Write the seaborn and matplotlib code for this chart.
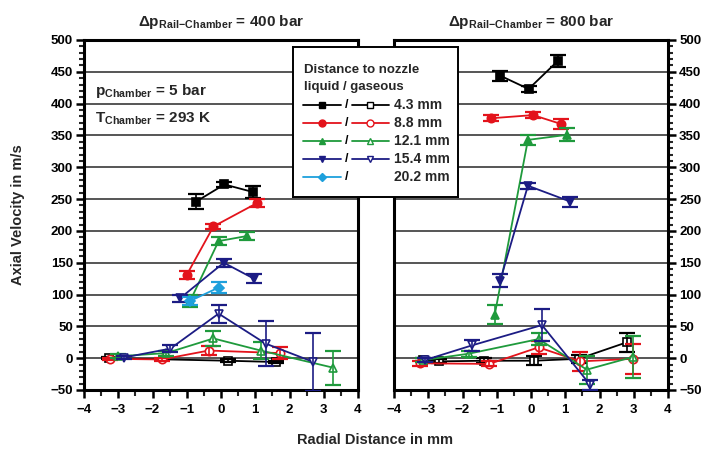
import numpy as np
import pandas as pd
from matplotlib import pyplot as plt
from matplotlib.ticker import MultipleLocator
import seaborn as sns

sns.set_theme(style='ticks')
plt.rcParams['font.family'] = ['Liberation Sans', 'DejaVu Sans']
plt.rcParams['font.weight'] = 'bold'
plt.rcParams['mathtext.fontset'] = 'custom'
plt.rcParams['mathtext.rm'] = 'Liberation Sans'
plt.rcParams['mathtext.bf'] = 'Liberation Sans:bold'

# farben / abstaende
dist_labels = ['4.3 mm', '8.8 mm', '12.1 mm', '15.4 mm', '20.2 mm']
colors = ['#000000', '#e3131b', '#1f9a3c', '#1c1c84', '#1ea0dc']
markers = ['s', 'o', '^', 'v', 'D']

# ---- 400 bar, fluessig (gefuellt) ----
l400_x = [[-0.73, 0.1, 0.94],
          [-1.0, -0.22, 1.06],
          [-0.9, -0.07, 0.76],
          [-1.2, 0.08, 0.96],
          [-0.9, -0.07]]
l400_y = [[246, 273, 261],
          [131, 207, 244],
          [90, 184, 192],
          [94, 150, 125],
          [90, 111]]
l400_e = [[12, 4, 9],
          [6, 4, 6],
          [9, 6, 7],
          [5, 6, 7],
          [6, 9]]

# ---- 400 bar, gasfoermig (offen) ----
g400_x = [[-3.27, 0.2, 1.6],
          [-3.25, -1.73, -0.36, 1.72],
          [-3.0, -1.6, -0.22, 1.16, 3.28],
          [-2.84, -1.48, -0.07, 1.3, 2.7]]
g400_y = [[0, -4, -6],
          [-1, -2, 12, 8],
          [3, 8, 31, 12, -15],
          [1, 15, 70, 23, -6]]
g400_e = [[2, 2, 2],
          [2, 3, 7, 10],
          [3, 4, 12, 14, 27],
          [2, 5, 14, 35, 45]]

# ---- 800 bar, fluessig ----
l800_x = [[-0.9, -0.07, 0.78],
          [-1.17, 0.06, 0.88],
          [-1.06, -0.09, 1.05],
          [-0.9, -0.09, 1.15]]
l800_y = [[444, 423, 467],
          [377, 382, 368],
          [68, 343, 351],
          [122, 271, 246]]
l800_e = [[8, 4, 9],
          [5, 5, 8],
          [15, 8, 10],
          [10, 5, 8]]

# ---- 800 bar, gasfoermig ----
g800_x = [[-3.16, -2.68, -1.36, 0.08, 1.39, 2.8],
          [-3.24, -1.22, 0.22, 1.44, 2.98],
          [-3.14, -1.82, 0.22, 1.63, 2.98],
          [-3.1, -1.73, 0.32, 1.73]]
g800_y = [[-3, -5, -4, -4, -1, 25],
          [-8, -9, 17, -5, -1],
          [-3, 7, 30, -18, 2],
          [-3, 20, 52, -42]]
g800_e = [[3, 3, 4, 7, 6, 15],
          [4, 4, 10, 15, 24],
          [3, 5, 10, 22, 33],
          [3, 8, 25, 8]]


def draw(ax, xs, ys, es, filled):
    for i in range(len(xs)):
        df = pd.DataFrame({'x': xs[i], 'y': ys[i]})
        c = colors[i]
        sns.lineplot(data=df, x='x', y='y', ax=ax, sort=False, color=c, lw=1.3,
                     marker=markers[i], ms=6 if markers[i] != 'D' else 5,
                     mec=c, mfc=c if filled else 'white', mew=1.2, zorder=3)
        ax.errorbar(xs[i], ys[i], yerr=es[i], fmt='none', ecolor=c,
                    elinewidth=1.2, capsize=6, capthick=1.6, zorder=3)


fig = plt.figure(figsize=(7.02, 4.54), dpi=100)
ax1 = fig.add_axes([84 / 702, 1 - 390 / 454, 274 / 702, 350 / 454])
ax2 = fig.add_axes([394 / 702, 1 - 390 / 454, 274 / 702, 350 / 454])

draw(ax1, g400_x, g400_y, g400_e, False)
draw(ax1, l400_x, l400_y, l400_e, True)
draw(ax2, g800_x, g800_y, g800_e, False)
draw(ax2, l800_x, l800_y, l800_e, True)

for ax in [ax1, ax2]:
    ax.set_xlim(-4, 4)
    ax.set_ylim(-50, 500)
    ax.set_xlabel('')
    ax.set_ylabel('')
    ax.xaxis.set_major_locator(MultipleLocator(1))
    ax.xaxis.set_minor_locator(MultipleLocator(0.5))
    ax.yaxis.set_major_locator(MultipleLocator(50))
    ax.yaxis.set_minor_locator(MultipleLocator(10))
    for s in ax.spines.values():
        s.set_visible(True)
        s.set_linewidth(2.2)
        s.set_color('black')
    ax.grid(axis='y', which='major', color='#555555', lw=1.4, zorder=0)
    ax.set_axisbelow(True)
    ax.tick_params(axis='x', which='major', direction='out', length=6, width=1.8,
                   labelsize=9.5, pad=4, colors='black')
    ax.tick_params(axis='x', which='minor', direction='out', length=4, width=1.5)
    ax.tick_params(axis='y', which='major', direction='out', length=6, width=1.8,
                   labelsize=9.5, pad=2, colors='black')
    ax.tick_params(axis='y', which='minor', direction='out', length=3.5, width=1.5)
    for lab in ax.get_xticklabels() + ax.get_yticklabels():
        lab.set_fontweight('bold')
    ax.set_facecolor('white')

ax2.yaxis.tick_right()
ax2.yaxis.set_label_position('right')
ax2.tick_params(axis='y', which='both', left=False, right=True, labelleft=False, labelright=True)
for lab in ax2.get_yticklabels():
    lab.set_fontweight('bold')

# titel
ax1.set_title(r'$\Delta\mathbf{p}_{\mathbf{Rail\!-\!Chamber}}$ = 400 bar',
              fontsize=11, fontweight='bold', pad=10)
ax2.set_title(r'$\Delta\mathbf{p}_{\mathbf{Rail\!-\!Chamber}}$ = 800 bar',
              fontsize=11, fontweight='bold', pad=10)

ax1.text(0.04, 0.855, r'$\mathbf{p}_{\mathbf{Chamber}}$ = 5 bar', transform=ax1.transAxes,
         fontsize=11, fontweight='bold', va='center', ha='left')
ax1.text(0.04, 0.775, r'$\mathbf{T}_{\mathbf{Chamber}}$ = 293 K', transform=ax1.transAxes,
         fontsize=11, fontweight='bold', va='center', ha='left')

fig.text(0.026, 0.527, 'Axial Velocity in m/s', rotation=90, ha='center', va='center',
         fontsize=10.5, fontweight='bold')
fig.text(0.534, 0.03, 'Radial Distance in mm', ha='center', va='center',
         fontsize=10.5, fontweight='bold')

# legende (eigene box)
lx0, lx1, ly0, ly1 = 293, 458, 47, 197
lg = fig.add_axes([lx0 / 702, 1 - ly1 / 454, (lx1 - lx0) / 702, (ly1 - ly0) / 454])
lg.set_xlim(lx0, lx1)
lg.set_ylim(ly1, ly0)
lg.set_xticks([])
lg.set_yticks([])
lg.set_facecolor('white')
for s in lg.spines.values():
    s.set_visible(True)
    s.set_linewidth(1.4)
    s.set_color('black')
lg.text(304, 70, 'Distance to nozzle', fontsize=9.5, fontweight='bold', va='center')
lg.text(304, 87, 'liquid / gaseous', fontsize=9.5, fontweight='bold', va='center')
rows = [105, 123, 141, 159, 177]
for i, yy in enumerate(rows):
    c = colors[i]
    ms = 5 if markers[i] != 'D' else 4.5
    lg.plot([303, 341], [yy, yy], color=c, lw=1.3)
    lg.plot([322], [yy], marker=markers[i], color=c, ms=ms, mec=c, mfc=c)
    lg.text(347, yy, '/', fontsize=9, va='center', ha='center', color='black')
    if i < 4:
        lg.plot([352, 389], [yy, yy], color=c, lw=1.3)
        lg.plot([370], [yy], marker=markers[i], color=c, ms=ms, mec=c, mfc='white', mew=1)
    lg.text(394, yy, dist_labels[i], fontsize=10, fontweight='bold', va='center', ha='left')

plt.savefig('out.png', dpi=100)
